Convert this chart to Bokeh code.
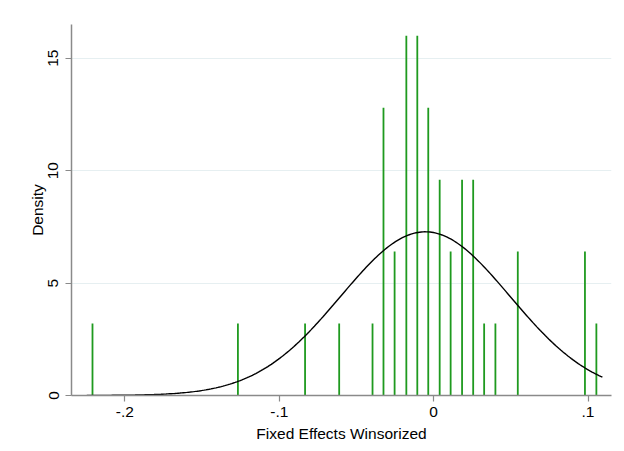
import math
from bokeh.plotting import figure
from bokeh.models import Range1d, FixedTicker
from bokeh.embed import file_html
from bokeh.resources import INLINE

# Histogram spikes (bin positions and densities)
bin_x = [-0.221, -0.1268, -0.0833, -0.0612, -0.0396, -0.0325, -0.0253, -0.0177,
         -0.0106, -0.0035, 0.0039, 0.0110, 0.0184, 0.0256, 0.0327, 0.0400,
         0.0545, 0.0980, 0.1054]
density = [3.2, 3.2, 3.2, 3.2, 3.2, 12.8, 6.4, 16.0, 16.0, 12.8, 9.6, 6.4,
           9.6, 9.6, 3.2, 3.2, 6.4, 6.4, 3.2]

# Fitted normal density parameters
norm_mean = -0.0054
norm_sd = 0.0548
curve_min = -0.2247
curve_max = 0.1093
curve_n = 300

x_ticks = [-0.2, -0.1, 0.0, 0.1]
x_tick_labels = ["-.2", "-.1", "0", ".1"]
y_ticks = [0, 5, 10, 15]

curve_x = [curve_min + (curve_max - curve_min) * i / (curve_n - 1) for i in range(curve_n)]
curve_y = [math.exp(-0.5 * ((v - norm_mean) / norm_sd) ** 2) / (norm_sd * math.sqrt(2 * math.pi))
           for v in curve_x]

FONT = "Liberation Sans"
AXIS_COLOR = "#8a8a8a"

p = figure(width=616, height=451, output_backend="svg", toolbar_location=None,
           x_range=Range1d(-0.2346, 0.1152), y_range=Range1d(0, 16.5),
           min_border_left=71, min_border_right=5, min_border_top=24, min_border_bottom=56)
p.outline_line_color = None
p.background_fill_color = "white"
p.border_fill_color = "white"

p.xgrid.visible = False
p.ygrid.grid_line_color = "#e6eff1"
p.ygrid.grid_line_width = 1.2
p.ygrid.ticker = FixedTicker(ticks=y_ticks)

p.segment(x0=bin_x, y0=[0] * len(bin_x), x1=bin_x, y1=density,
          line_color="#1f9a1f", line_width=1.8)
p.line(curve_x, curve_y, line_color="black", line_width=1.4)

xa = p.xaxis[0]
xa.ticker = FixedTicker(ticks=x_ticks)
xa.major_label_overrides = {t: l for t, l in zip(x_ticks, x_tick_labels)}
xa.axis_label = "Fixed Effects Winsorized"
ya = p.yaxis[0]
ya.ticker = FixedTicker(ticks=y_ticks)
ya.axis_label = "Density"
ya.major_label_orientation = "vertical"

for ax in (xa, ya):
    ax.axis_line_color = AXIS_COLOR
    ax.axis_line_width = 1.5
    ax.major_tick_line_color = AXIS_COLOR
    ax.major_tick_line_width = 1.2
    ax.major_tick_out = 6
    ax.major_tick_in = 0
    ax.minor_tick_line_color = None
    ax.major_label_text_font = FONT
    ax.major_label_text_font_size = "15.5px"
    ax.major_label_text_color = "black"
    ax.axis_label_text_font = FONT
    ax.axis_label_text_font_size = "15.5px"
    ax.axis_label_text_font_style = "normal"
    ax.axis_label_text_color = "black"

xa.major_label_standoff = 5
xa.axis_label_standoff = 5
ya.major_label_standoff = 7
ya.axis_label_standoff = 0

open("out.html", "w").write(file_html(p, INLINE))
